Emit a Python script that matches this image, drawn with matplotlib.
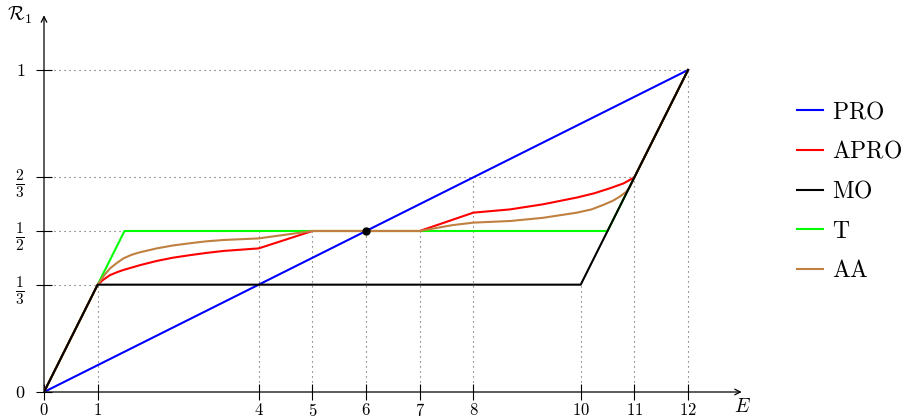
import matplotlib
matplotlib.use("Agg")
import matplotlib.pyplot as plt

plt.rcParams['mathtext.fontset'] = 'cm'
plt.rcParams['font.family'] = 'serif'
plt.rcParams['font.serif'] = ['cmr10', 'DejaVu Serif']

# data
pro_x = [0, 12]
pro_y = [0, 1]

apro_x = [0, 1, 1.1, 1.23, 1.36, 1.48, 1.79, 2.10, 2.40, 2.72, 3.03, 3.34, 3.67, 4, 5, 7, 8,
          8.68, 9.30, 9.93, 10.25, 10.55, 10.8, 11, 12]
apro_y = [0, 1/3, 0.348, 0.363, 0.372, 0.379, 0.394, 0.407, 0.417, 0.425, 0.432, 0.438,
          0.442, 0.446, 0.5, 0.5, 0.557, 0.567, 0.583, 0.604, 0.617, 0.633, 0.648, 2/3, 1]

mo_x = [0, 1, 10, 12]
mo_y = [0, 1/3, 1/3, 1]

t_x = [0, 1, 1.5, 10.5, 12]
t_y = [0, 1/3, 1/2, 1/2, 1]

aa_x = [0, 1, 1.06, 1.12, 1.23, 1.36, 1.48, 1.63, 1.79, 2.10, 2.40, 2.72, 3.03, 3.34, 4, 5, 7,
        7.3, 7.6, 8, 8.68, 9.30, 9.93, 10.2, 10.42, 10.6, 10.73, 10.85, 10.92, 11, 12]
aa_y = [0, 1/3, 0.348, 0.362, 0.384, 0.401, 0.415, 0.426, 0.434, 0.446, 0.455, 0.462,
        0.468, 0.472, 0.477, 0.5, 0.5, 0.509, 0.518, 0.526, 0.531, 0.541, 0.557, 0.567,
        0.581, 0.594, 0.607, 0.622, 0.638, 2/3, 1]

x_ticks = [0, 1, 4, 5, 6, 7, 8, 10, 11, 12]
y_ticks = [0, 1/3, 1/2, 2/3, 1]
y_labels = ['$0$', r'$\frac{1}{3}$', r'$\frac{1}{2}$', r'$\frac{2}{3}$', '$1$']

# dotted guide lines: (x, top) and (y, right end)
v_guides = [(1, 1/3), (4, 1/2), (5, 1/2), (6, 1/2), (7, 1/2), (8, 2/3), (10, 1/3), (11, 2/3), (12, 1)]
h_guides = [(1/3, 1), (1/2, 1.5), (2/3, 11), (1, 12)]

W, H = 907, 420
fig = plt.figure(figsize=(W / 100, H / 100), dpi=100)
ux, uy = 53.67, 322.0
ax = fig.add_axes([44 / W, (H - 392) / H, 13 * ux / W, 1.17 * uy / H])
ax.set_xlim(0, 13)
ax.set_ylim(0, 1.17)

dot = dict(color='#555555', lw=0.8, linestyle=(0, (1, 3.5)), zorder=1)
for x, top in v_guides:
    ax.plot([x, x], [0, top], **dot)
for y, right in h_guides:
    ax.plot([0, right], [y, y], **dot)

lw = 1.5
ax.plot(pro_x, pro_y, color='#0000ff', lw=lw, label='PRO', zorder=3)
ax.plot(apro_x, apro_y, color='#ff0000', lw=lw, label='APRO', zorder=3)
ax.plot(mo_x, mo_y, color='black', lw=lw, label='MO', zorder=5)
ax.plot(t_x, t_y, color='#00ff00', lw=lw, label='T', zorder=2)
ax.plot(aa_x, aa_y, color='#bf8040', lw=lw, label='AA', zorder=4)
ax.plot([6], [0.5], 'o', color='black', ms=5, zorder=6)

for s in ax.spines.values():
    s.set_visible(False)
ax.annotate('', xy=(13, 0), xytext=(0, 0), xycoords='data',
            arrowprops=dict(arrowstyle='->', lw=0.9, color='black', shrinkA=0, shrinkB=0),
            annotation_clip=False)
ax.annotate('', xy=(0, 1.17), xytext=(0, 0), xycoords='data',
            arrowprops=dict(arrowstyle='->', lw=0.9, color='black', shrinkA=0, shrinkB=0),
            annotation_clip=False)

ax.set_xticks(x_ticks)
ax.set_xticklabels(['$%d$' % v for v in x_ticks])
ax.set_yticks(y_ticks)
ax.set_yticklabels(y_labels)
ax.tick_params(axis='both', direction='inout', length=11, width=0.8)
ax.tick_params(axis='x', pad=2, labelsize=12)
ax.tick_params(axis='y', pad=8, labelsize=13)
for lab in ax.get_yticklabels():
    if 'frac' in lab.get_text():
        lab.set_fontsize(16)

fig.text(20 / W, 1 - 15 / H, r'$\mathcal{R}_1$', fontsize=14, ha='center', va='center')
fig.text(742 / W, 1 - 407 / H, '$E$', fontsize=14, ha='center', va='center')

handles, labels = ax.get_legend_handles_labels()
labels = [r'$\mathrm{%s}$' % l for l in labels]
fig.legend(handles, labels, loc='upper left', bbox_to_anchor=(797 / W, 1 - 101 / H),
           frameon=False, fontsize=17, handlelength=1.1, handletextpad=0.4,
           labelspacing=0.75, borderaxespad=0, borderpad=0)

fig.savefig('out.png', dpi=100)
